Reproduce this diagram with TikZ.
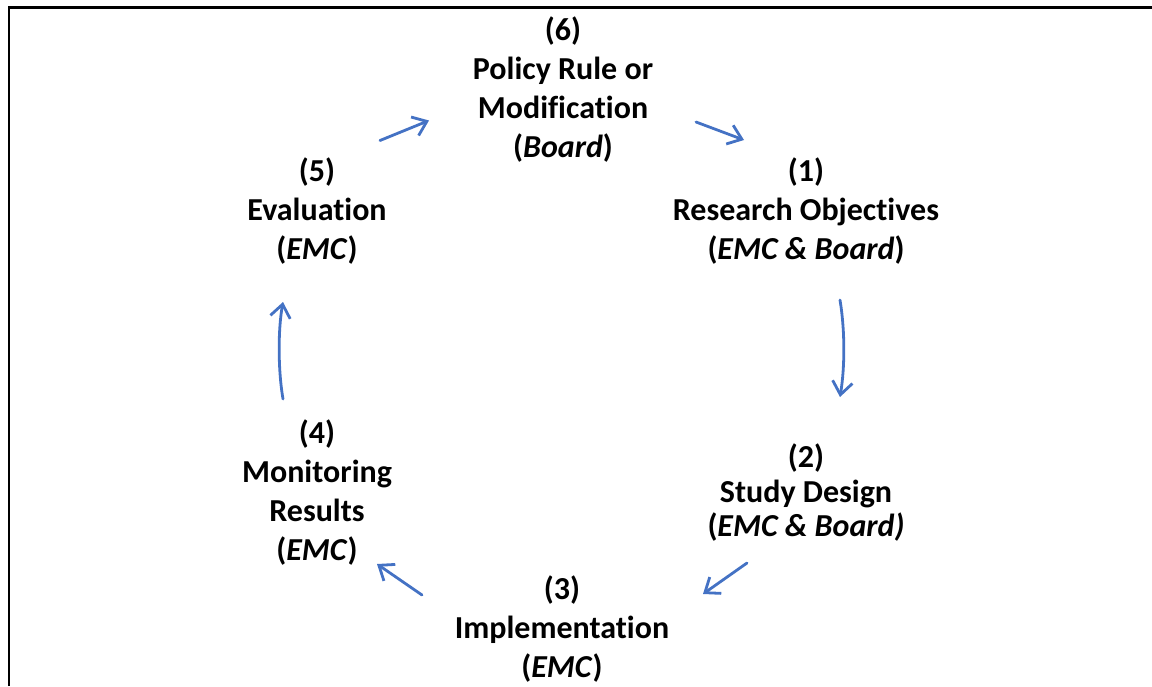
\documentclass[tikz,border=0pt]{standalone}
\usepackage{fontspec}
\setmainfont{Carlito}[Ligatures=NoCommon]
\usetikzlibrary{arrows.meta}
\definecolor{arrowblue}{HTML}{4472C4}
\begin{document}
\begin{tikzpicture}[x=1pt,y=-1pt,
  stage/.style={align=center,font=\fontsize{32}{39}\selectfont\bfseries,inner sep=0pt},
  stagetight/.style={stage,font=\fontsize{32}{34.5}\selectfont\bfseries},
  flow/.style={draw=arrowblue,line width=2.8pt,line cap=round,
    -{Straight Barb[length=13pt,width=20pt,line width=2.8pt]}}]
\useasboundingbox (0,0) rectangle (1152,686);
\draw[line width=2.6pt] (9,686) -- (9,7.5) -- (1152,7.5);
\node[stage] (n6) at (563,90) {(6)\\Policy Rule or\\Modification\\(\textit{Board})};
\node[stage] (n1) at (806,211) {(1)\\Research Objectives\\(\textit{EMC \& Board})};
\node[stagetight] (n2) at (806,493) {(2)\\Study Design\\(\textit{EMC \& Board)}};
\node[stage] (n3) at (562,629) {(3)\\Implementation\\(\textit{EMC})};
\node[stage] (n4) at (317,493) {(4)\\Monitoring\\Results\\(\textit{EMC})};
\node[stage] (n5) at (317,211) {(5)\\Evaluation\\(\textit{EMC})};
\coordinate (a5s) at (380,140.5);
\coordinate (a5e) at (429,120.5);
\coordinate (a6s) at (696,122);
\coordinate (a6e) at (744,140);
\coordinate (a1s) at (840,300);
\coordinate (a1e) at (840,397);
\coordinate (a2s) at (747,563);
\coordinate (a2e) at (703,594);
\coordinate (a3s) at (422,595);
\coordinate (a3e) at (377,564);
\coordinate (a4s) at (283,399);
\coordinate (a4e) at (283,302);
\draw[flow] (a5s) -- (a5e);
\draw[flow] (a6s) -- (a6e);
\draw[flow] (a1s) .. controls (845,330) and (845,367) .. (a1e);
\draw[flow] (a2s) -- (a2e);
\draw[flow] (a3s) -- (a3e);
\draw[flow] (a4s) .. controls (278,370) and (278,330) .. (a4e);
\end{tikzpicture}
\end{document}
